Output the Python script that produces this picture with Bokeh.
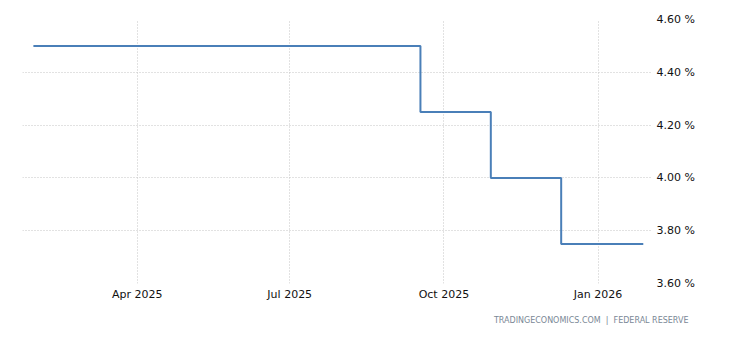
from datetime import datetime
from bokeh.plotting import figure
from bokeh.models import FixedTicker, Range1d, Title
from bokeh.embed import file_html
from bokeh.resources import INLINE

# Data
dates = [datetime(2025, 1, 29), datetime(2025, 9, 17), datetime(2025, 10, 29),
         datetime(2025, 12, 10), datetime(2026, 1, 28)]
rates = [4.50, 4.25, 4.00, 3.75, 3.75]

x_tick_dates = [datetime(2025, 4, 1), datetime(2025, 7, 1), datetime(2025, 10, 1), datetime(2026, 1, 1)]
x_tick_labels = ["Apr 2025", "Jul 2025", "Oct 2025", "Jan 2026"]
y_ticks = [3.6, 3.8, 4.0, 4.2, 4.4, 4.6]
y_tick_labels = ["3.60 %", "3.80 %", "4.00 %", "4.20 %", "4.40 %", "4.60 %"]
nb = "\u00a0"
source_text = f"TRADINGECONOMICS.COM{nb}{nb}|{nb}{nb}FEDERAL{nb}RESERVE"

def ms(d):
    return (d - datetime(1970, 1, 1)).total_seconds() * 1000.0

x0, x1 = ms(datetime(2025, 1, 22, 12)), ms(datetime(2026, 2, 2, 12))
y0, y1 = 3.6, 4.6

p = figure(width=730, height=340, output_backend="svg", toolbar_location=None,
           x_axis_type="datetime", y_axis_location="right",
           x_range=Range1d(x0, x1), y_range=Range1d(y0, y1),
           min_border_left=22, min_border_right=78, min_border_top=19, min_border_bottom=57)
p.outline_line_color = None
p.background_fill_color = "white"
p.border_fill_color = "white"

p.step(x=[ms(d) for d in dates], y=rates, mode="after", line_color="#4a7fb8", line_width=2)

xt = [ms(d) for d in x_tick_dates]
p.xaxis.ticker = FixedTicker(ticks=xt)
p.xaxis.major_label_overrides = {t: l for t, l in zip(xt, x_tick_labels)}
p.yaxis.ticker = FixedTicker(ticks=y_ticks)
p.yaxis.major_label_overrides = {t: l for t, l in zip(y_ticks, y_tick_labels)}

for ax in (p.xaxis[0], p.yaxis[0]):
    ax.axis_line_color = None
    ax.major_tick_line_color = None
    ax.minor_tick_line_color = None
    ax.major_tick_out = 0
    ax.major_tick_in = 0
    ax.minor_tick_out = 0
    ax.major_label_text_font = "DejaVu Sans"
    ax.major_label_text_font_size = "11px"
    ax.major_label_text_color = "#111111"
p.xaxis.major_label_standoff = 4
p.yaxis.major_label_standoff = 4

for g in (p.xgrid[0], p.ygrid[0]):
    g.grid_line_color = "#c4c4c4"
    g.grid_line_dash = "1 2"
    g.grid_line_width = 1

src = Title(text=source_text, align="right", offset=-36, standoff=20,
            text_font="DejaVu Sans", text_font_size="8px", text_font_style="normal",
            text_color="#7a8896")
p.add_layout(src, "below")

open("out.html", "w").write(file_html(p, INLINE))
